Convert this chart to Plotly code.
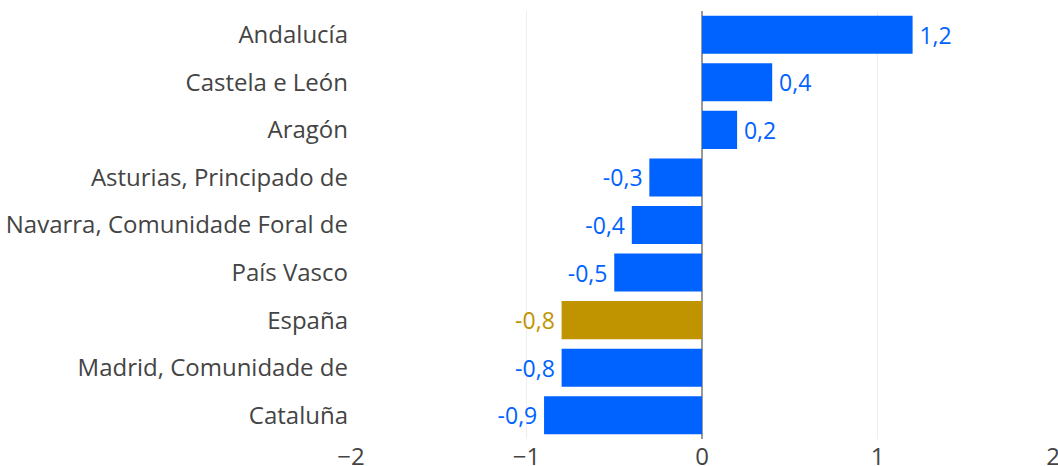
import plotly.graph_objects as go

regions = ["Andalucía", "Castela e León", "Aragón", "Asturias, Principado de",
           "Navarra, Comunidade Foral de", "País Vasco", "España",
           "Madrid, Comunidade de", "Cataluña"]
values = [1.2, 0.4, 0.2, -0.3, -0.4, -0.5, -0.8, -0.8, -0.9]
highlight = "España"

blue = "#0062ff"
gold = "#c09400"
colors = [gold if r == highlight else blue for r in regions]

# a thin space on the bar side of each label widens the gap a little
labels = []
for v in values:
    s = f"{v:.1f}".replace(".", ",")
    labels.append("\u2009" + s if v >= 0 else s + "\u2009")

fig = go.Figure(go.Bar(
    x=values,
    y=regions,
    orientation="h",
    marker=dict(color=colors, line=dict(width=0)),
    text=labels,
    textposition="outside",
    textfont=dict(color=colors, size=23, family="Open Sans"),
    cliponaxis=False,
))

fig.update_layout(
    width=1058,
    height=466,
    margin=dict(l=351, r=5, t=11, b=27, autoexpand=False),
    paper_bgcolor="white",
    plot_bgcolor="white",
    bargap=0.2,
    showlegend=False,
    font=dict(family="Open Sans", size=24, color="#444"),
    xaxis=dict(
        range=[-2, 2],
        tickvals=[-2, -1, 0, 1, 2],
        ticktext=["−2", "−1", "0", "1", "2"],
        showgrid=True,
        gridcolor="#eeeeee",
        zeroline=True,
        zerolinecolor="#999999",
        zerolinewidth=1.5,
        tickfont=dict(size=24, color="#444"),
        ticklabelstandoff=1,
        ticklabeloverflow="allow",
        automargin=False,
        fixedrange=True,
    ),
    yaxis=dict(
        autorange="reversed",
        showgrid=False,
        tickfont=dict(size=24, color="#444"),
        ticklabelstandoff=2,
        automargin=False,
        fixedrange=True,
    ),
)

# the page's default body margin would shift the figure by 8px
fig.write_html("out.html", post_script="document.body.style.margin='0';",
               config={"displayModeBar": False})
